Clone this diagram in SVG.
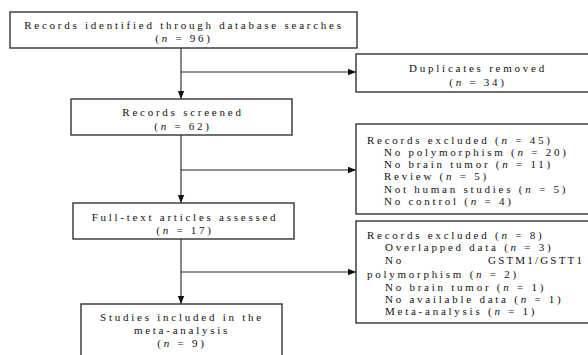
<svg xmlns="http://www.w3.org/2000/svg" width="588" height="355" viewBox="0 0 588 355">
<defs>
<marker id="arr" viewBox="0 0 8 8" refX="8" refY="4" markerWidth="8" markerHeight="8" markerUnits="userSpaceOnUse" orient="auto">
<path d="M0,0.8 L8,4 L0,7.2 Z" fill="#111"/>
</marker>
<style>
.box{fill:#fff;stroke:#333;stroke-width:1.4}
.t{font-family:"Liberation Serif","Times New Roman",serif;font-size:11px;letter-spacing:2.75px;fill:#111}
.c{text-anchor:middle}
.ln{stroke:#222;stroke-width:1.1;fill:none}
</style>
</defs>
<rect width="588" height="355" fill="#fff"/>
<g id="connectors">
<line class="ln" x1="181" y1="48" x2="181" y2="99" marker-end="url(#arr)"/>
<line class="ln" x1="181" y1="72" x2="356" y2="72" marker-end="url(#arr)"/>
<line class="ln" x1="181" y1="135" x2="181" y2="203" marker-end="url(#arr)"/>
<line class="ln" x1="181" y1="170" x2="356" y2="170" marker-end="url(#arr)"/>
<line class="ln" x1="181" y1="239" x2="181" y2="304" marker-end="url(#arr)"/>
<line class="ln" x1="181" y1="272" x2="356" y2="272" marker-end="url(#arr)"/>
</g>
<g id="identified">
<rect class="box" x="10" y="12" width="347" height="36"/>
<text class="t c" x="184" y="29">Records identified through database searches</text>
<text class="t c" x="184" y="42">(<tspan font-style="italic">n</tspan> = 96)</text>
</g>
<g id="duplicates">
<rect class="box" x="356" y="54" width="240" height="38"/>
<text class="t c" x="478" y="72">Duplicates removed</text>
<text class="t c" x="478" y="86">(<tspan font-style="italic">n</tspan> = 34)</text>
</g>
<g id="screened">
<rect class="box" x="71" y="99" width="221" height="36"/>
<text class="t c" x="183" y="116">Records screened</text>
<text class="t c" x="183" y="130">(<tspan font-style="italic">n</tspan> = 62)</text>
</g>
<g id="excluded1">
<rect class="box" x="356" y="124" width="240" height="90"/>
<text class="t" x="367" y="143.5">Records excluded (<tspan font-style="italic">n</tspan> = 45)</text>
<text class="t" x="384" y="155.8">No polymorphism (<tspan font-style="italic">n</tspan> = 20)</text>
<text class="t" x="384" y="168.1">No brain tumor (<tspan font-style="italic">n</tspan> = 11)</text>
<text class="t" x="384" y="180.4">Review (<tspan font-style="italic">n</tspan> = 5)</text>
<text class="t" x="384" y="192.7">Not human studies (<tspan font-style="italic">n</tspan> = 5)</text>
<text class="t" x="384" y="205">No control (<tspan font-style="italic">n</tspan> = 4)</text>
</g>
<g id="fulltext">
<rect class="box" x="73" y="203" width="221" height="36"/>
<text class="t c" x="185" y="221">Full-text articles assessed</text>
<text class="t c" x="185" y="234">(<tspan font-style="italic">n</tspan> = 17)</text>
</g>
<g id="excluded2">
<rect class="box" x="356" y="221" width="240" height="102"/>
<text class="t" x="367" y="238.5">Records excluded (<tspan font-style="italic">n</tspan> = 8)</text>
<text class="t" x="385" y="250.8">Overlapped data (<tspan font-style="italic">n</tspan> = 3)</text>
<text class="t" x="385" y="263.6">No</text>
<text class="t" x="488" y="263.6" style="letter-spacing:0" textLength="94" lengthAdjust="spacing">GSTM1/GSTT1</text>
<text class="t" x="367" y="277.8">polymorphism (<tspan font-style="italic">n</tspan> = 2)</text>
<text class="t" x="385" y="290.5">No brain tumor (<tspan font-style="italic">n</tspan> = 1)</text>
<text class="t" x="385" y="302.8">No available data (<tspan font-style="italic">n</tspan> = 1)</text>
<text class="t" x="385" y="315.2">Meta-analysis (<tspan font-style="italic">n</tspan> = 1)</text>
</g>
<g id="included">
<rect class="box" x="81" y="304" width="201" height="60"/>
<text class="t c" x="182" y="321">Studies included in the</text>
<text class="t c" x="182" y="334">meta-analysis</text>
<text class="t c" x="182" y="347">(<tspan font-style="italic">n</tspan> = 9)</text>
</g>
</svg>
